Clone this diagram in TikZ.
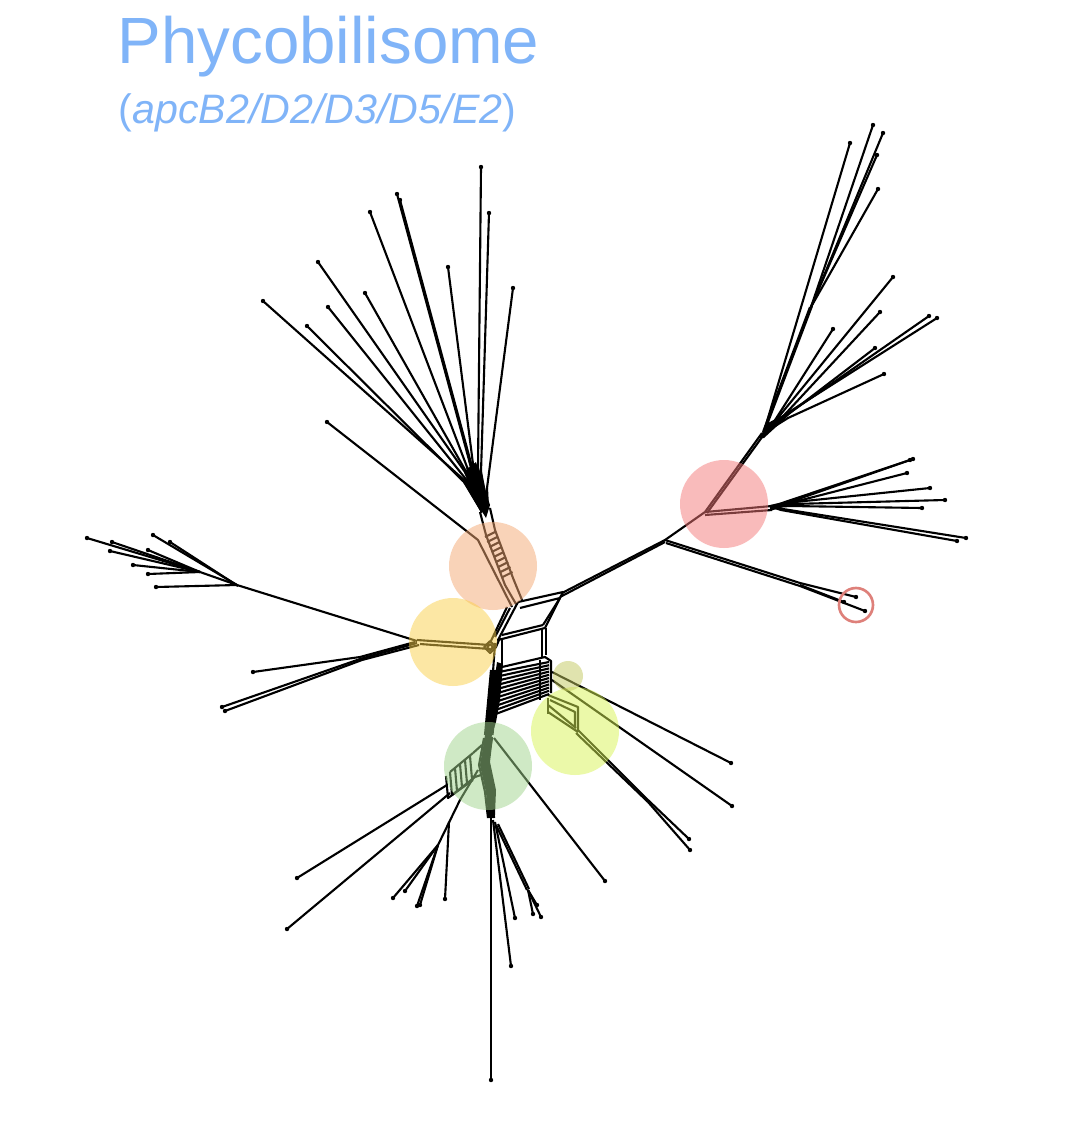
\documentclass[tikz,border=0pt]{standalone}
\usepackage{fontspec}
\setmainfont{Liberation Sans}
\definecolor{titleblue}{RGB}{128,180,248}
\definecolor{cOrange}{RGB}{245,169,115}
\definecolor{cYellow}{RGB}{251,209,75}
\definecolor{cRed}{RGB}{245,121,121}
\definecolor{cGreen}{RGB}{161,213,141}
\definecolor{cLime}{RGB}{217,245,85}
\definecolor{cOlive}{RGB}{195,201,95}
\definecolor{ringred}{RGB}{222,128,122}
\tikzset{
  br/.style={line width=0.6pt, black, line join=round},
  blob/.style={fill opacity=0.5},
}
\newcommand\lfdot[1]{\fill (#1) circle[radius=2.2];}
\begin{document}
\begin{tikzpicture}[x=0.01cm,y=-0.01cm]
\useasboundingbox (0,0) rectangle (1068,1130);
\fill[white] (0,0) rectangle (1068,1130);
% titles
\node[anchor=base west, inner sep=0, text=titleblue, font=\fontsize{18.6}{20}\selectfont] (title) at (117,63) {Phycobilisome};
\node[anchor=base west, inner sep=0, text=titleblue, font=\fontsize{11.7}{13}\selectfont] (subtitle) at (118,123) {(\textit{apcB2/D2/D3/D5/E2})};

% ===== upper-left fan =====
\fill (466,470) -- (476,462) -- (490,505) -- (486,518) -- (478,505) -- cycle;
\foreach \lx/\ly/\ix/\iy in {481/167/478/468, 489/213/481/472, 513/288/487/488, 448/267/473/464, 397/194/469/460, 400/200/471/463, 370/212/467/467, 318/262/465/472, 365/293/468/475, 263/301/463/479, 328/307/465/478, 307/326/464/482}{
  \draw[br] (\lx,\ly) -- (\ix,\iy) -- (482,512);
  \draw[br] (\ix,\iy) -- (488,508);
  \lfdot{\lx,\ly}
}
\draw[br] (327,422) -- (478,540) -- (512,607);
\lfdot{327,422}
% stem with hatch
\draw[br] (480,512) -- (486,535) -- (505,585) -- (516,604);
\draw[br] (490,508) -- (495,530) -- (513,578) -- (522,600);
\foreach \t in {0,...,8}{
  \draw[br] (485+2.2*\t,537+5*\t) -- (495+2.2*\t,532+5*\t);
}

% ===== central box =====
\draw[br] (518,602) -- (563,592) -- (545,628);
\draw[br] (520,608) -- (560,598) -- (543,625);
\draw[br] (518,602) -- (498,640) -- (545,628);
\draw[br] (510,608) -- (495,637);
\draw[br] (507,607) -- (490,643);
\draw[br] (502,635) -- (543,625);
\draw[br] (502,640) -- (502,665);
\draw[br] (495,643) -- (493,672);
\draw[br] (542,628) -- (542,657);
\draw[br] (546,628) -- (546,655);
% ladder
\draw[br] (502,667) -- (545,657) -- (551,661) -- (551,693);
\draw[br] (540,660) -- (540,700);
\foreach \t in {0,...,10}{
  \draw[br] (499-0.6*\t,672+4.3*\t) -- (549,662+3.2*\t);
}
\fill (497,662) -- (503,664) -- (500,700) -- (496,722) -- (490,742) -- (484,742) -- (489,718) -- (493,690) -- cycle;
\foreach \t in {0,...,5}{
  \draw[br] (491+1.5*\t,670) -- (485+1.5*\t,735);
}

% ===== right branch =====
\draw[br] (562,593) -- (665,540) -- (705,512);
\draw[br] (560,597) -- (665,542);
\draw[br] (665,540) -- (800,583) -- (856,597);
\draw[br] (666,543) -- (800,586) -- (865,611);
\draw[br] (800,585) -- (844,602);
\lfdot{856,597} \lfdot{865,611} \lfdot{844,602}
% red junction, right fan
\draw[br] (705,512) -- (772,506);
\draw[br] (705,515) -- (772,510);
\fill (770,505) -- (800,498) -- (800,502) -- (770,511) -- cycle;
\foreach \lx/\ly/\ix/\iy in {913/459/785/502, 910/460/787/503, 907/473/790/503, 930/488/795/502, 945/500/792/504, 922/508/790/506, 966/538/783/509, 957/541/781/510}{
  \draw[br] (772,507) -- (\ix,\iy) -- (\lx,\ly);
  \lfdot{\lx,\ly}
}
% upper-right fan
\draw[br] (705,512) -- (762,433);
\draw[br] (707,513) -- (765,433);
\fill (759,438) -- (768,423) -- (790,411) -- (789,415) -- (764,438) -- cycle;
\draw[br] (763,432) -- (810,307);
\draw[br] (765,430) -- (812,306);
\foreach \lx/\ly in {873/125, 883/133, 877/155, 878/189}{
  \draw[br] (811,307) -- (\lx,\ly);
  \lfdot{\lx,\ly}
}
\draw[br] (850,143) -- (765,428); \lfdot{850,143}
\foreach \lx/\ly/\ix/\iy in {893/277/772/425, 880/312/775/425, 833/329/770/428, 937/318/786/414, 929/316/785/416, 875/348/782/419, 884/374/788/418}{
  \draw[br] (764,433) -- (\ix,\iy) -- (\lx,\ly);
  \lfdot{\lx,\ly}
}

% ===== left branch =====
\draw[br] (490,645) -- (417,640);
\draw[br] (490,649) -- (420,644);
\draw[br] (484,647) -- (490,641) -- (496,647) -- (490,653) -- cycle;
\draw[br] (487,647) -- (490,644) -- (493,647) -- (490,650) -- cycle;
\draw[br] (496,647) -- (499,640);
\draw[br] (417,641) -- (237,585);
\draw[br] (415,642) -- (360,657) -- (253,672);
\draw[br] (419,645) -- (362,660) -- (225,711);
\draw[br] (417,643) -- (360,659) -- (222,707);
\lfdot{253,672} \lfdot{225,711} \lfdot{222,707}
\draw[br] (237,585) -- (156,587); \lfdot{156,587}
\draw[br] (237,585) -- (153,535); \lfdot{153,535}
\draw[br] (238,586) -- (170,542); \lfdot{170,542}
\draw[br] (237,585) -- (200,572);
\foreach \lx/\ly in {87/538, 112/542, 110/551, 148/550, 133/565, 148/574}{
  \draw[br] (200,572) -- (\lx,\ly);
  \lfdot{\lx,\ly}
}

% ===== bottom (green) =====
\fill (485,735) -- (493,737) -- (490,762) -- (496,790) -- (495,815) -- (490,815) -- (487,790) -- (481,762) -- cycle;
\foreach \t in {0,...,4}{
  \draw[br] (484+2*\t,738) -- (479+2*\t,765) -- (485+2*\t,792) -- (488+1.5*\t,818);
}
\draw[br] (450,772) -- (473,753);
\draw[br] (452,795) -- (475,777);
\draw[br] (450,772) -- (452,795);
\draw[br] (446,776) -- (448,798) -- (473,780);
\foreach \t in {0,...,3}{ \draw[br] (455+5*\t,768-4*\t) -- (457+5*\t,791-4*\t); }
\draw[br] (473,753) -- (482,745);
\draw[br] (475,777) -- (481,775);
\draw[br] (447,785) -- (297,878); \lfdot{297,878}
\draw[br] (450,793) -- (287,929); \lfdot{287,929}
\draw[br] (478,770) -- (460,800) -- (438,845);
\foreach \lx/\ly in {393/898, 405/891, 417/906, 420/905}{
  \draw[br] (438,845) -- (\lx,\ly);
  \lfdot{\lx,\ly}
}
\draw[br] (449,822) -- (445,899); \lfdot{445,899}
\draw[br] (491,812) -- (491,1080); \lfdot{491,1080}
\draw[br] (493,820) -- (511,966); \lfdot{511,966}
\draw[br] (495,822) -- (515,918); \lfdot{515,918}
\draw[br] (496,825) -- (527,890);
\draw[br] (498,824) -- (529,889);
\foreach \lx/\ly in {533/914, 541/917, 537/905}{
  \draw[br] (528,890) -- (\lx,\ly);
  \lfdot{\lx,\ly}
}
\draw[br] (494,738) -- (605,881); \lfdot{605,881}

% ===== lower right =====
\draw[br] (552,672) -- (731,763); \lfdot{731,763}
\draw[br] (552,680) -- (732,806); \lfdot{732,806}
\draw[br] (548,695) -- (578,707) -- (578,732);
\draw[br] (548,712) -- (578,732);
\draw[br] (550,700) -- (575,712) -- (575,728);
\draw[br] (548,705) -- (576,728);
\draw[br] (548,698) -- (548,714);
\draw[br] (578,730) -- (648,800) -- (689,839); \lfdot{689,839}
\draw[br] (576,733) -- (648,802) -- (690,850); \lfdot{690,850}

% ===== coloured discs =====
\fill[cOrange, blob] (493,566) circle[radius=44];
\fill[cYellow, blob] (453,642) circle[radius=44];
\fill[cRed, blob] (724,504) circle[radius=44];
\fill[cGreen, blob] (488,766) circle[radius=44];
\fill[cLime, blob] (575,731) circle[radius=44];
\fill[cOlive, blob] (568,676) circle[radius=15];
\draw[ringred, line width=0.75pt] (856,605) circle[radius=17];
\end{tikzpicture}
\end{document}
